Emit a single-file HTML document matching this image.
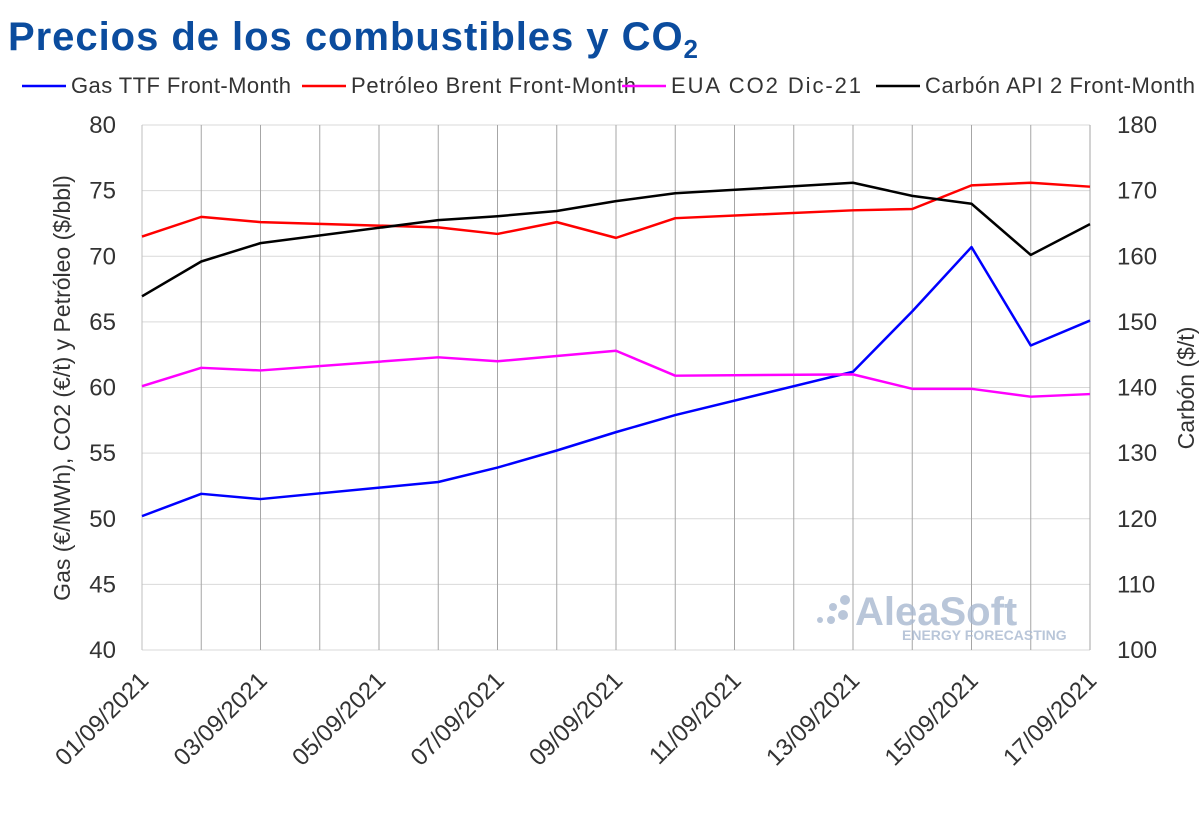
<!DOCTYPE html>
<html><head><meta charset="utf-8"><style>
body{margin:0;background:#fff;}
svg text{font-family:"Liberation Sans",sans-serif;}
</style></head><body>
<svg id="chart" width="1200" height="831" xmlns="http://www.w3.org/2000/svg">
<text x="8" y="50" font-size="40" font-weight="bold" fill="#0b4c9e" textLength="690">Precios de los combustibles y CO<tspan font-size="26" dy="8">2</tspan></text>
<g id="legend" font-size="22" fill="#333"></g>
<g id="grid"></g>
<g id="axes" font-size="24" fill="#333"></g>
<g opacity="0.8">
<circle cx="820" cy="620" r="3" fill="#a8b8d0"/><circle cx="831" cy="620" r="4" fill="#a8b8d0"/><circle cx="843" cy="615" r="5" fill="#a8b8d0"/><circle cx="845" cy="600" r="5" fill="#a8b8d0"/><circle cx="833" cy="607" r="4" fill="#a8b8d0"/>
<text x="855" y="625" font-size="40" font-weight="bold" fill="#a8b8d0">AleaSoft</text>
<text x="902" y="640" font-size="14" font-weight="bold" fill="#a8b8d0">ENERGY FORECASTING</text>
</g>
<g id="series"></g>
</svg>
<script>
const days = [1,2,3,6,7,8,9,10,13,14,15,16,17];
const gas = [50.2,51.9,51.5,52.8,53.9,55.2,56.6,57.9,61.2,65.8,70.7,63.2,65.1];
const brent = [71.5,73.0,72.6,72.2,71.7,72.6,71.4,72.9,73.5,73.6,75.4,75.6,75.3];
const eua = [60.1,61.5,61.3,62.3,62.0,62.4,62.8,60.9,61.0,59.9,59.9,59.3,59.5];
const coal = [153.9,159.2,162.0,165.5,166.1,166.9,168.4,169.6,171.2,169.2,168.0,160.2,164.9];
const leftTicks = [40,45,50,55,60,65,70,75,80];
const rightTicks = [100,110,120,130,140,150,160,170,180];
const xLabelDays = [1,3,5,7,9,11,13,15,17];
const legendNames = ["Gas TTF Front-Month","Petróleo Brent Front-Month","EUA CO2 Dic-21","Carbón API 2 Front-Month"];
const colors = ["#0000ff","#ff0000","#ff00ff","#000000"];

const NS="http://www.w3.org/2000/svg";
const X0=142,X1=1090,Y0=650,Y1=125;
const xs=d=>X0+(d-1)*(X1-X0)/16;
const yl=v=>Y0-(v-40)*(Y0-Y1)/40;
const yr=v=>Y0-(v-100)*(Y0-Y1)/80;
function mk(tag,attrs,parent){const e=document.createElementNS(NS,tag);for(const k in attrs)e.setAttribute(k,attrs[k]);parent.appendChild(e);return e;}
const grid=document.getElementById('grid'),axes=document.getElementById('axes'),series=document.getElementById('series'),legend=document.getElementById('legend');
leftTicks.forEach(v=>{
 const l=mk('line',{x1:X0,x2:X1,y1:yl(v),y2:yl(v),stroke:'#d9d9d9','stroke-width':1},grid);
 
 
 const t=mk('text',{x:X0-26,y:yl(v)+8,'text-anchor':'end'},axes);t.textContent=v;
 
 
});
rightTicks.forEach(v=>{
 const t=mk('text',{x:X1+27,y:yr(v)+8,'text-anchor':'start'},axes);t.textContent=v;
 
 
});
for(let d=1;d<=17;d++){
 const l=mk('line',{x1:xs(d),x2:xs(d),y1:Y1,y2:Y0,stroke:d==1?'#bfbfbf':'#a6a6a6','stroke-width':1},grid);
 
 
}
xLabelDays.forEach(d=>{
 const x=xs(d)+8,y=Y0+32;
 const t=mk('text',{x:x,y:y,'text-anchor':'end',transform:`rotate(-45 ${x} ${y})`},axes);
 t.textContent=String(d).padStart(2,'0')+'/09/2021';
 
 
});
let yt=mk('text',{x:0,y:0,transform:'translate(70 388) rotate(-90)','text-anchor':'middle','font-size':23},axes);
yt.textContent='Gas (€/MWh), CO2 (€/t)  y Petróleo ($/bbl)';


let yt2=mk('text',{x:0,y:0,transform:'translate(1194 388) rotate(-90)','text-anchor':'middle','font-size':23},axes);
yt2.textContent='Carbón ($/t)';


const all=[[gas,yl],[brent,yl],[eua,yl],[coal,yr]];
const sNames=['gas-line','brent-line','eua-line','coal-line'];
all.forEach(([vals,f],i)=>{
 const p=mk('polyline',{points:days.map((d,j)=>xs(d)+','+f(vals[j])).join(' '),fill:'none',stroke:colors[i],'stroke-width':2.5,'stroke-linejoin':'round'},series);
 
 
});
const lx=[22,302,622,876];
const lw=[220,285,190,270];
legendNames.forEach((n,i)=>{
 mk('line',{x1:lx[i],x2:lx[i]+44,y1:86,y2:86,stroke:colors[i],'stroke-width':2.5},legend);
 const t=mk('text',{x:lx[i]+49,y:93,textLength:lw[i]},legend);t.textContent=n;
 
 
});
</script>
</body></html>
